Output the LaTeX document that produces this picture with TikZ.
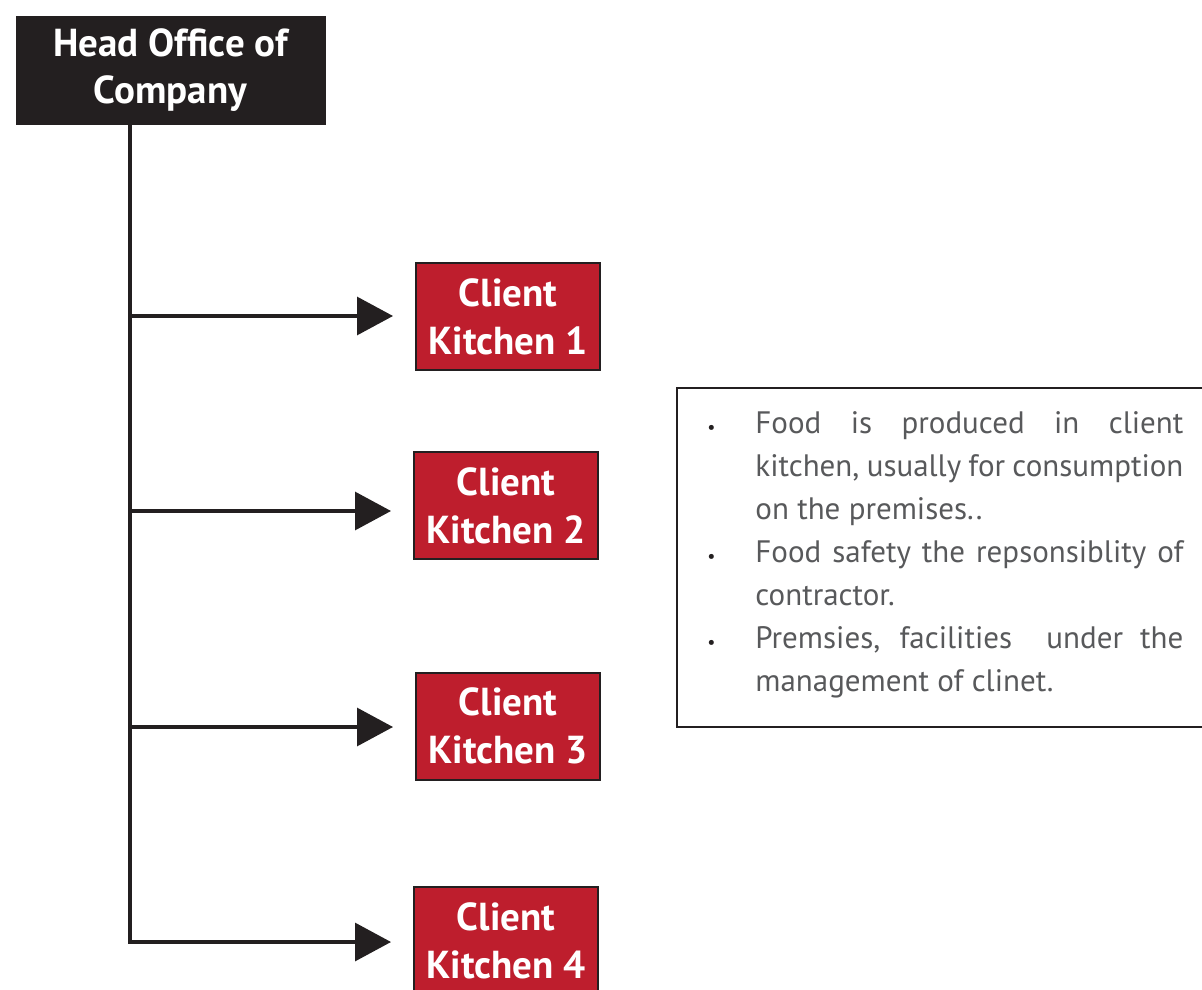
\documentclass[tikz,border=0pt]{standalone}
\usepackage{fontspec}
\setmainfont{PT Sans}
\usetikzlibrary{arrows.meta}
\definecolor{ink}{HTML}{231F20}
\definecolor{kred}{HTML}{BE1E2D}
\definecolor{tgray}{HTML}{58595B}
\newcommand*\blt{\leavevmode\llap{\textcolor{ink}{\fontsize{9}{9}\selectfont\textbullet}\hspace{20pt}}}
\begin{document}
\begin{tikzpicture}[x=0.5pt,y=-0.5pt,
  headbox/.style={draw=ink, fill=ink, text=white, inner sep=0pt,
    font=\fontsize{19.5}{23.5}\selectfont\bfseries, align=center,
    minimum width=154.5pt, minimum height=54pt},
  kitbox/.style={draw=ink, line width=1pt, fill=kred, text=white, inner sep=0pt,
    font=\fontsize{19.5}{24}\selectfont\bfseries, align=center,
    minimum width=92pt, minimum height=53.5pt},
  notebox/.style={draw=ink, line width=1pt, fill=white, inner sep=0pt,
    minimum width=264.5pt, minimum height=169.5pt},
  link/.style={draw=ink, line width=1.6pt},
  arr/.style={link, shorten >=11pt, -{Triangle[length=18pt,width=19pt]}},
]
\fill[white] (0,0) rectangle (1202,989);
\useasboundingbox (0,0) rectangle (1202,989);

\node[headbox] (head) at (170.5,70) {Head Office of\\Company};

\node[kitbox] (k1) at (508,316.5) {Client\\Kitchen 1};
\node[kitbox] (k2) at (506,505.5) {Client\\Kitchen 2};
\node[kitbox] (k3) at (508,726) {Client\\Kitchen 3};
\node[kitbox] (k4) at (506,940.5) {Client\\Kitchen 4};

\coordinate (top) at (130,124);
\coordinate (b1) at (130,316);
\coordinate (b2) at (130,511);
\coordinate (b3) at (130,727);
\coordinate (b4) at (130,942);

\draw[link] (top) -- (b3);
\draw[arr] (b1) -- (b1 -| k1.west);
\draw[arr] (b2) -- (b2 -| k2.west);
\draw[arr] (b3) -- (b3 -| k3.west);
\draw[arr] (b3) -- (b4) -- (b4 -| k4.west);

\node[notebox] (note) at (941.5,557.5) {};
\node[anchor=base west, inner sep=0pt, text=tgray,
  font=\fontsize{15.5}{21.5}\selectfont] (notetext) at (755,433) {%
\begin{minipage}[t]{214pt}\raggedright
\blt\makebox[214pt][s]{Food is produced in client}\\
\makebox[214pt][s]{kitchen, usually for consumption}\\
on the premises..\\
\blt\makebox[214pt][s]{Food safety the repsonsiblity of}\\
contractor.\\
\blt\makebox[214pt][s]{Premsies, facilities\ \ under the}\\
management of clinet.
\end{minipage}};
\end{tikzpicture}
\end{document}
